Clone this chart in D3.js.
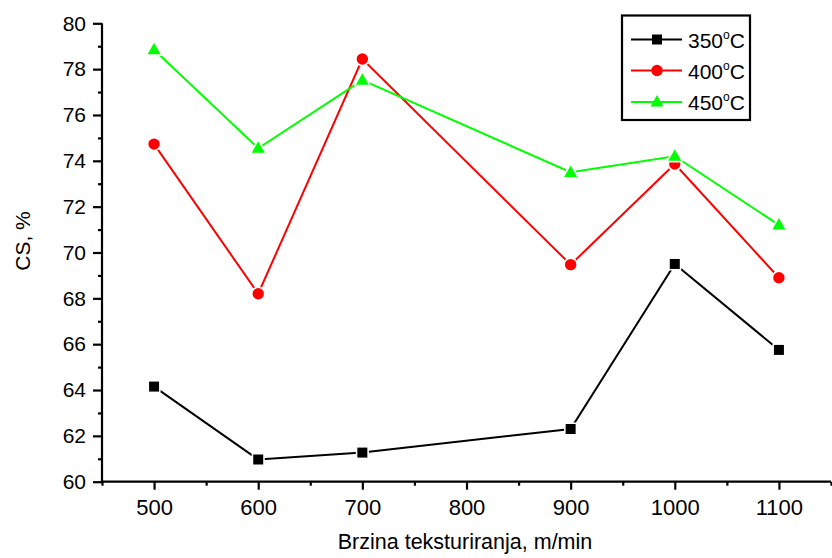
<!DOCTYPE html>
<html><head><meta charset="utf-8">
<script src="https://cdn.jsdelivr.net/npm/d3@7"></script>
<style>body{margin:0;background:#fff}svg{display:block}text{font-family:"Liberation Sans",Arial,sans-serif;fill:#000}</style>
</head><body><svg id="c" width="832" height="558"></svg>
<script>
const xValues = [500, 600, 700, 900, 1000, 1100];
const s350 = [64.15, 60.97, 61.27, 62.3, 69.5, 65.75];
const s400 = [74.73, 68.2, 78.44, 69.47, 73.86, 68.9];
const s450 = [78.85, 74.55, 77.52, 73.5, 74.2, 71.2];
const seriesNames = ["350", "400", "450"];
const xTicks = [500, 600, 700, 800, 900, 1000, 1100];
const yTicks = [60, 62, 64, 66, 68, 70, 72, 74, 76, 78, 80];

const series = [
  {name: seriesNames[0], values: s350, color: "#000000", shape: "square"},
  {name: seriesNames[1], values: s400, color: "#ff0000", shape: "circle"},
  {name: seriesNames[2], values: s450, color: "#00ff00", shape: "triangle"}
];

const svg = d3.select("#c");
const x = d3.scaleLinear().domain([450, 1150]).range([102, 831]);
const y = d3.scaleLinear().domain([60, 80]).range([481.7, 23.3]);

const gx = svg.append("g").attr("transform", "translate(0,481.7)");
gx.call(d3.axisBottom(x).tickValues(d3.range(450, 1151, 100)).tickSize(4).tickFormat(""));
gx.call(g => g.select(".domain").remove());
const gx2 = svg.append("g").attr("transform", "translate(0,481.7)");
gx2.call(d3.axisBottom(x).tickValues(xTicks).tickSize(8).tickPadding(10).tickFormat(d3.format("d")));
gx2.attr("font-size", null).selectAll("text").attr("font-size", "22px").style("font-size", "22px");
gx2.select(".domain").attr("d", "M102,0H831");

const gy = svg.append("g").attr("transform", "translate(102,0)");
gy.call(d3.axisLeft(y).tickValues(d3.range(61, 80, 2)).tickSize(4).tickFormat(""));
gy.call(g => g.select(".domain").remove());
const gy2 = svg.append("g").attr("transform", "translate(102,0)");
gy2.call(d3.axisLeft(y).tickValues(yTicks).tickSize(9).tickPadding(7).tickFormat(d3.format("d")));
gy2.attr("font-size", null).selectAll("text").attr("font-size", "21px").style("font-size", "21px");
gy2.select(".domain").attr("d", "M0,23.3V481.7");
svg.selectAll(".domain, .tick line").attr("stroke", "#000").attr("stroke-width", 2.2);

svg.append("text").attr("x", 465).attr("y", 549).attr("text-anchor", "middle").style("font-size", "21.5px").text("Brzina teksturiranja, m/min");
svg.append("text").attr("transform", "translate(30,241) rotate(-90)").attr("text-anchor", "middle").style("font-size", "21px").text("CS, %");

function shapePath(shape, cx, cy, s) {
  if (shape === "square") return `M${cx - s/2},${cy - s/2}h${s}v${s}h${-s}Z`;
  if (shape === "circle") { const r = s/2 + 0.7; return `M${cx - r},${cy}a${r},${r} 0 1,0 ${2*r},0a${r},${r} 0 1,0 ${-2*r},0Z`; }
  const w = s * 1.3, h = s * 1.15;
  return `M${cx},${cy - h*0.6}L${cx + w/2},${cy + h*0.4}L${cx - w/2},${cy + h*0.4}Z`;
}
function marker(g, shape, cx, cy, color, s) {
  const d = shapePath(shape, cx, cy, s);
  g.append("path").attr("d", d).attr("fill", "#fff").attr("stroke", "#fff").attr("stroke-width", 3.2).attr("stroke-linejoin", "round");
  g.append("path").attr("d", d).attr("fill", color);
}

const line = d3.line().x(d => x(d[0])).y(d => y(d[1]));
series.forEach(s => {
  const pts = xValues.map((v, i) => [v, s.values[i]]);
  svg.append("path").datum(pts).attr("d", line).attr("fill", "none").attr("stroke", s.color).attr("stroke-width", 2);
});
series.forEach(s => {
  const g = svg.append("g");
  xValues.forEach((v, i) => marker(g, s.shape, x(v), y(s.values[i]), s.color, 10));
});

const lg = svg.append("g");
lg.append("rect").attr("x", 622).attr("y", 15.5).attr("width", 128).attr("height", 104.5)
  .attr("fill", "#fff").attr("stroke", "#000").attr("stroke-width", 2.2);
const rowY = [39.5, 70.5, 102];
series.forEach((s, i) => {
  lg.append("line").attr("x1", 631).attr("x2", 682).attr("y1", rowY[i]).attr("y2", rowY[i])
    .attr("stroke", s.color).attr("stroke-width", 2);
  lg.append("path").attr("d", shapePath(s.shape, 657, rowY[i], 10)).attr("fill", s.color);
  const t = lg.append("text").attr("x", 688).attr("y", rowY[i] + 8).style("font-size", "21px");
  t.append("tspan").text(s.name);
  t.append("tspan").attr("dy", -9).style("font-size", "12px").text("o");
  t.append("tspan").attr("dy", 9).text("C");
});
</script></body></html>
